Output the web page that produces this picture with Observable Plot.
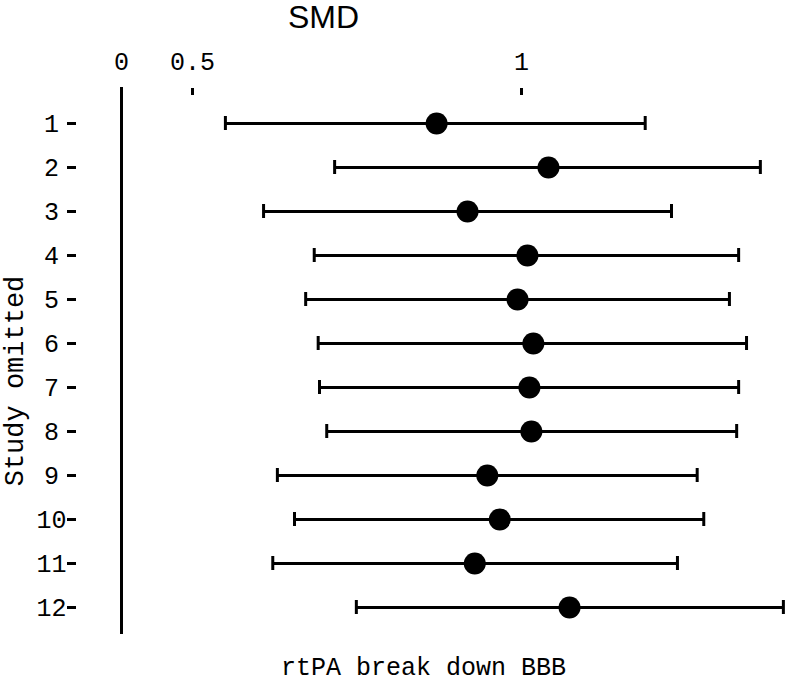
<!DOCTYPE html>
<html>
<head>
<meta charset="utf-8">
<script src="https://cdn.jsdelivr.net/npm/d3@7"></script>
<script src="https://cdn.jsdelivr.net/npm/@observablehq/plot@0.6"></script>
<style>
  html, body { margin: 0; padding: 0; background: white; }
</style>
</head>
<body>
<div id="chart"></div>
<script>
const studies = ["1","2","3","4","5","6","7","8","9","10","11","12"];
const smd   = [0.871, 1.041, 0.918, 1.009, 0.994, 1.018, 1.012, 1.015, 0.948, 0.967, 0.929, 1.073];
const lower = [0.550, 0.716, 0.608, 0.685, 0.672, 0.691, 0.693, 0.704, 0.629, 0.655, 0.622, 0.749];
const upper = [1.188, 1.363, 1.228, 1.330, 1.316, 1.342, 1.330, 1.327, 1.267, 1.277, 1.237, 1.398];
const xTicks = [0, 0.5, 1];
const xTitle = "SMD";
const yTitle = "Study omitted";
const caption = "rtPA break down BBB";

// the reference axis is compressed below 0.5
const K = 71 / 329;
const squeeze = v => (v < 0.5 ? 0.5 - (0.5 - v) * K : v);
const unsqueeze = p => (p < 0.5 ? 0.5 - (0.5 - p) / K : p);

const data = studies.map((s, i) => ({study: s, smd: smd[i], lo: lower[i], hi: upper[i]}));

const chart = Plot.plot({
  width: 785,
  height: 683,
  marginTop: 87,
  marginBottom: 49,
  marginLeft: 121,
  marginRight: 0,
  x: {type: "linear", domain: [squeeze(0), 1], range: [121, 521]},
  y: {type: "band", domain: studies, range: [114, 615], paddingInner: 0.6838, paddingOuter: 0},
  style: {fontFamily: "Liberation Mono", fontSize: "25px", color: "black", background: "white"},
  marks: [
    Plot.axisX(xTicks.map(squeeze), {anchor: "top", tickSize: 7, tickPadding: 18, dy: 7, strokeWidth: 3, label: null,
      tickFormat: d => String(+unsqueeze(d).toFixed(3))}),
    Plot.axisY({anchor: "left", tickSize: 9, tickPadding: 16, dx: -45, textAnchor: "middle", strokeWidth: 3, label: null}),
    Plot.ruleX([0], {x: d => squeeze(d), strokeWidth: 3}),
    Plot.ruleY(data, {y: "study", x1: d => squeeze(d.lo), x2: d => squeeze(d.hi), strokeWidth: 3}),
    Plot.tickX(data, {x: d => squeeze(d.lo), y: "study", strokeWidth: 3}),
    Plot.tickX(data, {x: d => squeeze(d.hi), y: "study", strokeWidth: 3}),
    Plot.dot(data, {x: d => squeeze(d.smd), y: "study", r: 11, fill: "black", stroke: "none"}),
    Plot.text([xTitle], {text: d => d, frameAnchor: "top-left", dx: 202, dy: -60, textAnchor: "middle", lineAnchor: "bottom", fontFamily: "Liberation Sans", fontSize: 32}),
    Plot.text([yTitle], {text: d => d, frameAnchor: "left", dx: -107, dy: 20, rotate: -90, textAnchor: "middle", lineAnchor: "middle", fontSize: 27, letterSpacing: "2px"}),
    Plot.text([caption], {text: d => d, frameAnchor: "bottom-left", dx: 302, dy: 40, textAnchor: "middle", lineAnchor: "bottom", fontSize: 25})
  ]
});
document.getElementById("chart").appendChild(chart);
</script>
</body>
</html>
